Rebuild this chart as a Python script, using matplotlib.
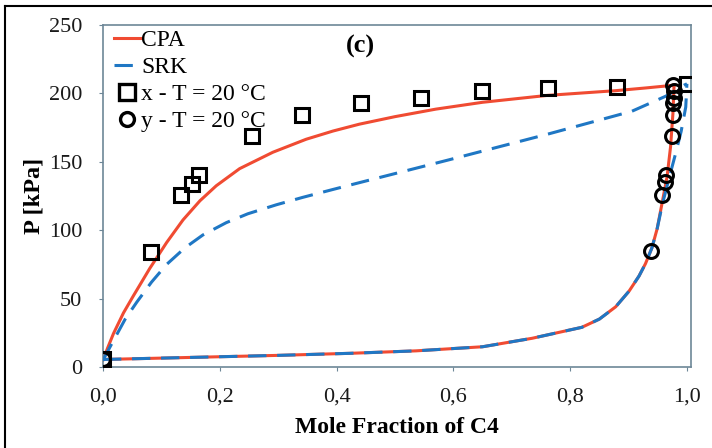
import matplotlib
matplotlib.use("Agg")
import matplotlib.pyplot as plt
from matplotlib.lines import Line2D

plt.rcParams['font.family'] = ['Liberation Serif', 'DejaVu Serif']

# CPA model curves
cpa_bub_x = [0, 0.008, 0.018, 0.035, 0.052, 0.08, 0.109, 0.137, 0.166, 0.194, 0.234, 0.291,
             0.348, 0.394, 0.439, 0.5, 0.57, 0.65, 0.76, 0.878, 0.93, 0.978]
cpa_bub_p = [5, 14, 24.5, 39.5, 52, 72, 91, 107.5, 121.5, 132.5, 145, 157,
             166.5, 172.5, 177.5, 183, 188.5, 193.5, 198.5, 202, 204, 206]
cpa_dew_x = [0, 0.1, 0.2, 0.3, 0.423, 0.536, 0.65, 0.735, 0.82, 0.85, 0.878, 0.901, 0.918,
             0.929, 0.94, 0.949, 0.958, 0.966, 0.972, 0.976, 0.978]
cpa_dew_p = [5.5, 6.5, 7.5, 8.5, 10, 11.8, 14.8, 21, 29, 35, 44, 55.5, 66.5,
             75.5, 87, 101, 121, 139, 161, 185, 206]

# SRK model curves
srk_bub_x = [0, 0.015, 0.038, 0.058, 0.083, 0.109, 0.14, 0.171, 0.211, 0.248, 0.297,
             0.342, 0.394, 0.434, 0.593, 0.764, 0.906, 0.964, 0.995, 1.0]
srk_bub_p = [5, 17, 35, 47.5, 62, 75, 87, 96.5, 105.5, 112, 118.6,
             124, 129.8, 134.2, 151.5, 170.5, 187, 198, 206, 207]
srk_dew_x = [0, 0.1, 0.2, 0.3, 0.423, 0.536, 0.65, 0.735, 0.82, 0.85, 0.878, 0.901, 0.918,
             0.929, 0.94, 0.949, 0.958, 0.97, 0.98, 0.99, 0.998, 1.0]
srk_dew_p = [5.5, 6.5, 7.5, 8.5, 10, 11.8, 14.8, 21, 29, 35, 44, 55.5, 66.5,
             75.5, 87, 101, 119, 139, 155, 172, 190, 207]

# Experimental data at T = 20 °C
exp_x = [0.0, 0.082, 0.133, 0.153, 0.164, 0.256, 0.34, 0.441, 0.545, 0.649, 0.762, 0.88, 1.0]
exp_x_p = [6, 84, 126, 134, 140, 169, 184, 193, 197, 201.5, 203.6, 205, 207]
exp_y = [0.0, 0.938, 0.958, 0.962, 0.965, 0.974, 0.977, 0.977, 0.978, 0.978, 0.977]
exp_y_p = [6, 85, 125.5, 135, 140, 169, 184, 193, 197, 202, 206]

xticks = [0.0, 0.2, 0.4, 0.6, 0.8, 1.0]
xticklabels = ['0,0', '0,2', '0,4', '0,6', '0,8', '1,0']
yticks = [0, 50, 100, 150, 200, 250]

RED = '#f04b32'
BLUE = '#1f77c4'
SPINE = '#6d8797'

fig = plt.figure(figsize=(7.12, 4.48), dpi=100)
ax = fig.add_axes([103/712, 1 - 367/448, (691-103)/712, (367-25)/448])

lw = 2.2
dash = (0, (6, 3.5))
ax.plot(cpa_bub_x, cpa_bub_p, color=RED, lw=lw, zorder=2)
ax.plot(cpa_dew_x, cpa_dew_p, color=RED, lw=lw, zorder=2)
ax.plot(srk_bub_x, srk_bub_p, color=BLUE, lw=lw, ls=dash, zorder=3)
ax.plot(srk_dew_x, srk_dew_p, color=BLUE, lw=lw, ls=dash, zorder=3)

ax.plot(exp_x, exp_x_p, ls='none', marker='s', ms=10, mfc='none', mec='black', mew=2.2, zorder=4)
ax.plot(exp_y, exp_y_p, ls='none', marker='o', ms=10, mfc='none', mec='black', mew=2.2, zorder=4)

ax.set_xlim(0, 1.007)
ax.set_ylim(0, 250)
ax.set_xticks(xticks)
ax.set_xticklabels(xticklabels)
ax.set_yticks(yticks)
ax.tick_params(labelsize=16, length=3, color=SPINE, labelcolor='#1a1a1a', pad=12)
for s in ax.spines.values():
    s.set_color(SPINE)
    s.set_linewidth(1.2)

ax.set_xlabel('Mole Fraction of C4', fontsize=17, fontweight='bold', labelpad=7)
ax.set_ylabel('P [kPa]', fontsize=17.5, fontweight='bold', labelpad=3)

ax.text(0.441, 234, '(c)', fontsize=19, fontweight='bold', ha='center', va='center')

handles = [
    Line2D([], [], color=RED, lw=lw),
    Line2D([], [], color=BLUE, lw=lw, ls=dash),
    Line2D([], [], ls='none', marker='s', ms=11, mfc='none', mec='black', mew=2.4),
    Line2D([], [], ls='none', marker='o', ms=10, mfc='none', mec='black', mew=2.4),
]
labels = ['CPA', 'SRK', 'x - T = 20 °C', 'y - T = 20 °C']
ax.legend(handles, labels, loc='upper left', bbox_to_anchor=(-0.01, 1.034), frameon=False,
          fontsize=17, handlelength=1.15, handletextpad=0.02, labelspacing=0.23, borderaxespad=0.3)

# figure border lines (left and top)
fig.add_artist(Line2D([5/712, 5/712], [0, 1 - 6/448], color='black', lw=1.5, transform=fig.transFigure))
fig.add_artist(Line2D([5/712, 1], [1 - 6/448, 1 - 6/448], color='black', lw=1.5, transform=fig.transFigure))

fig.savefig('out.png', dpi=100)
